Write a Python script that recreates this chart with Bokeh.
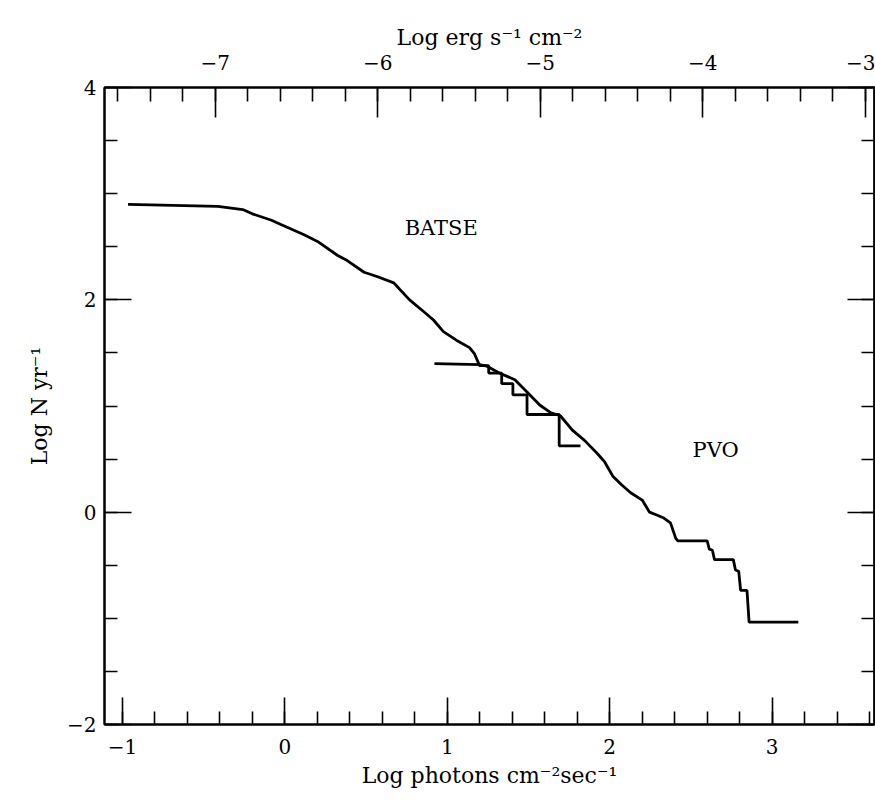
from bokeh.plotting import figure
from bokeh.models import LinearAxis, Range1d, FixedTicker, Label, CustomJSTickFormatter
from bokeh.embed import file_html
from bokeh.resources import INLINE

# ---- data ----
batse_x = [-0.965, -0.412, -0.259, -0.200, -0.082, -0.024, 0.122, 0.201, 0.323, 0.384,
           0.488, 0.567, 0.671, 0.707, 0.768, 0.854, 0.915, 0.976, 1.056, 1.137,
           1.168, 1.199, 1.255, 1.255, 1.335, 1.335, 1.404, 1.404, 1.491, 1.491,
           1.689, 1.689, 1.820]
batse_y = [2.90, 2.88, 2.85, 2.81, 2.75, 2.71, 2.61, 2.55, 2.42, 2.37,
           2.26, 2.22, 2.16, 2.10, 2.00, 1.89, 1.81, 1.70, 1.62, 1.55,
           1.49, 1.38, 1.38, 1.31, 1.31, 1.21, 1.21, 1.105, 1.105, 0.92,
           0.92, 0.625, 0.625]

pvo_x = [0.921, 1.199, 1.242, 1.323, 1.416, 1.491, 1.571, 1.634, 1.696, 1.770,
         1.845, 1.925, 1.969, 2.019, 2.071, 2.129, 2.200, 2.245, 2.297, 2.329,
         2.374, 2.406, 2.419, 2.600, 2.613, 2.632, 2.645, 2.761, 2.774, 2.794,
         2.806, 2.845, 2.858, 3.161]
pvo_y = [1.40, 1.39, 1.376, 1.308, 1.248, 1.132, 1.007, 0.939, 0.908, 0.773,
         0.676, 0.550, 0.473, 0.339, 0.261, 0.183, 0.114, 0.000, -0.031, -0.052,
         -0.101, -0.244, -0.270, -0.270, -0.348, -0.359, -0.447, -0.447, -0.545, -0.556,
         -0.737, -0.737, -1.035, -1.035]

annot_text = ["BATSE", "PVO"]
annot_x = [0.963, 2.652]
annot_y = [2.68, 0.59]

bottom_ticks = [-1, 0, 1, 2, 3]
bottom_minor = [round(-1.0 + 0.2 * i, 1) for i in range(24)]
left_ticks = [-2, 0, 2, 4]
left_minor = [round(-2.0 + 0.5 * i, 1) for i in range(13)]
top_ticks = [-7, -6, -5, -4, -3]
top_minor = [round(-7.6 + 0.2 * i, 1) for i in range(24)]

x_lo, x_hi = -1.11, 3.63
y_lo, y_hi = -2.0, 4.0
erg_offset = 6.572  # log photons - log erg

FONT = "DejaVu Serif"

p = figure(width=875, height=800, output_backend="svg", toolbar_location=None,
           x_range=Range1d(x_lo, x_hi), y_range=Range1d(y_lo, y_hi),
           min_border_left=104, min_border_right=1, min_border_top=87, min_border_bottom=76)
p.extra_x_ranges = {"erg": Range1d(x_lo - erg_offset, x_hi - erg_offset)}

p.xgrid.visible = False
p.ygrid.visible = False
p.outline_line_color = "black"
p.outline_line_width = 2
p.background_fill_color = "white"
p.border_fill_color = "white"

minus_fmt = CustomJSTickFormatter(code="""
    return tick < 0 ? "\\u2212" + Math.abs(tick).toString() : tick.toString();
""")


def style_axis(ax, major_len, minor_len):
    ax.axis_line_color = "black"
    ax.axis_line_width = 2
    ax.major_tick_line_color = "black"
    ax.minor_tick_line_color = "black"
    ax.major_tick_line_width = 1.6
    ax.minor_tick_line_width = 1.6
    ax.major_tick_in = major_len
    ax.major_tick_out = 0
    ax.minor_tick_in = minor_len
    ax.minor_tick_out = 0
    ax.major_label_text_font = FONT
    ax.major_label_text_font_size = "20px"
    ax.major_label_text_color = "black"
    ax.axis_label_text_font = FONT
    ax.axis_label_text_font_size = "22px"
    ax.axis_label_text_font_style = "normal"
    ax.axis_label_text_color = "black"
    ax.formatter = minus_fmt


# bottom axis
xb = p.xaxis[0]
xb.ticker = FixedTicker(ticks=bottom_ticks, minor_ticks=bottom_minor)
style_axis(xb, 27, 13)
xb.axis_label = "Log photons cm\u207b\u00b2sec\u207b\u00b9"
xb.major_label_standoff = 14
xb.axis_label_standoff = 6

# left axis
yl = p.yaxis[0]
yl.ticker = FixedTicker(ticks=left_ticks, minor_ticks=left_minor)
style_axis(yl, 27, 13)
yl.axis_label = "Log N yr\u207b\u00b9"
yl.major_label_standoff = 8
yl.axis_label_standoff = 12
yl.major_label_orientation = "horizontal"

# top axis
xt = LinearAxis(x_range_name="erg", ticker=FixedTicker(ticks=top_ticks, minor_ticks=top_minor))
style_axis(xt, 30, 14)
xt.axis_label = "Log erg s\u207b\u00b9 cm\u207b\u00b2"
xt.major_label_standoff = 18
xt.axis_label_standoff = 2
p.add_layout(xt, "above")

# right side: tick marks only (no labels) -> ticks given as "minor" ticks of two label-less axes
yr_short = LinearAxis(ticker=FixedTicker(ticks=[], minor_ticks=left_minor))
style_axis(yr_short, 0, 13)
yr_short.major_label_standoff = 0
yr_short.axis_label_standoff = 0
p.add_layout(yr_short, "right")

yr_long = LinearAxis(ticker=FixedTicker(ticks=[], minor_ticks=left_ticks))
style_axis(yr_long, 0, 27)
yr_long.major_label_standoff = 0
yr_long.axis_label_standoff = 0
p.add_layout(yr_long, "right")

# curves
p.line(batse_x, batse_y, line_color="black", line_width=2.8)
p.line(pvo_x, pvo_y, line_color="black", line_width=2.8)

for t, ax_, ay_ in zip(annot_text, annot_x, annot_y):
    p.add_layout(Label(x=ax_, y=ay_, text=t, text_align="center", text_baseline="middle",
                       text_font=FONT, text_font_size="21px", text_color="black"))

open("out.html", "w").write(file_html(p, INLINE))
